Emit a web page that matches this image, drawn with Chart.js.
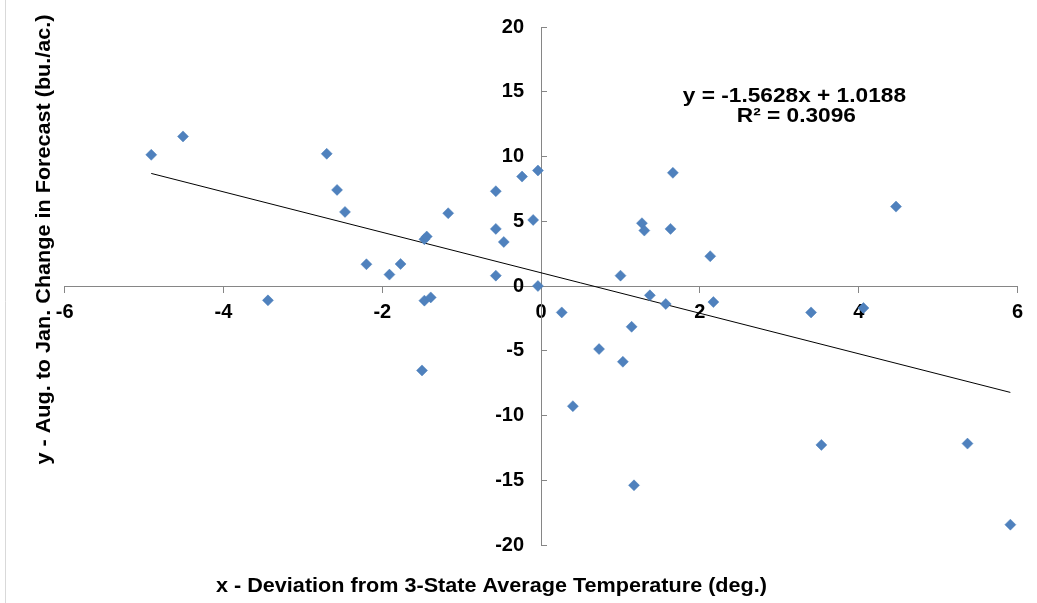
<!DOCTYPE html>
<html>
<head>
<meta charset="utf-8">
<script src="https://cdn.jsdelivr.net/npm/chart.js@4.4.1/dist/chart.umd.min.js"></script>
<style>
  html, body { margin: 0; padding: 0; background: #fff; }
  #wrap { width: 1037px; height: 603px; position: relative; }
</style>
</head>
<body>
<div id="wrap"><canvas id="c" width="1037" height="603"></canvas></div>
<script>
// ---- data ----
const xValues = [-4.91, -4.51, -3.44, -2.70, -2.57, -2.47, -2.20, -1.91, -1.77, -1.47, -1.44, -1.47, -1.39, -1.50, -1.17,
                 -0.57, -0.57, -0.47, -0.57, -0.24, -0.04, -0.10, -0.04, 0.26, 0.40, 0.73, 1.00, 1.03, 1.14, 1.27,
                 1.30, 1.37, 1.57, 1.63, 1.66, 2.13, 2.17, 3.40, 4.06, 4.47, 3.53, 5.37, 5.91, 1.17];
const yValues = [10.13, 11.55, -1.11, 10.21, 7.42, 5.72, 1.68, 0.88, 1.70, 3.61, 3.82, -1.13, -0.88, -6.52, 5.62,
                 7.32, 4.41, 3.40, 0.80, 8.45, 8.92, 5.10, 0.00, -2.04, -9.28, -4.87, 0.80, -5.85, -3.15, 4.85,
                 4.28, -0.72, -1.39, 4.41, 8.74, 2.30, -1.24, -2.04, -1.70, 6.13, -12.27, -12.17, -18.43, -15.39];
const xTicks = [-6, -4, -2, 0, 2, 4, 6];
const yTicks = [-20, -15, -10, -5, 0, 5, 10, 15, 20];
const trendSlope = -1.5628;
const trendIntercept = 1.0188;
const rSquared = 0.3096;
const xTitle = 'x - Deviation from 3-State Average Temperature (deg.)';
const yTitle = 'y - Aug. to Jan. Change in Forecast (bu./ac.)';
const eqLine1 = 'y = -1.5628x + 1.0188';
const eqLine2 = 'R\u00B2 = 0.3096';

// ---- derived ----
const points = xValues.map((x, i) => ({ x: x, y: yValues[i] }));
const xMin = Math.min(...xValues), xMax = Math.max(...xValues);
const trend = [xMin, xMax].map(x => ({ x: x, y: trendSlope * x + trendIntercept }));

const FONT = '"Liberation Sans", Arial, sans-serif';
const STRETCH = 1.08;

function stretchedText(ctx, text, x, y) {
  ctx.save();
  ctx.translate(x, y);
  ctx.scale(STRETCH, 1);
  ctx.fillText(text, 0, 0);
  ctx.restore();
}

const decor = {
  id: 'decor',
  beforeDraw(chart) {
    const ctx = chart.ctx;
    ctx.save();
    ctx.fillStyle = '#fff';
    ctx.fillRect(0, 0, chart.width, chart.height);
    ctx.strokeStyle = '#d9d9d9';
    ctx.lineWidth = 1;
    ctx.beginPath();
    ctx.moveTo(5.5, 0); ctx.lineTo(5.5, chart.height);
    ctx.stroke();
    ctx.restore();
  },
  afterDraw(chart) {
    const ctx = chart.ctx;
    const xs = chart.scales.x, ys = chart.scales.y;
    ctx.save();
    ctx.fillStyle = '#000';
    // y tick labels, left of the vertical axis
    ctx.font = 'bold 20px ' + FONT;
    ctx.textAlign = 'right';
    ctx.textBaseline = 'middle';
    const axisX = xs.getPixelForValue(0);
    yTicks.forEach(v => {
      ctx.fillText(String(v), axisX - 17, ys.getPixelForValue(v));
    });
    // equation label
    ctx.textAlign = 'center';
    ctx.textBaseline = 'alphabetic';
    ctx.font = 'bold 21px ' + FONT;
    const ex = xs.getPixelForValue(3.19);
    const ey = ys.getPixelForValue(14.23);
    stretchedText(ctx, eqLine1, ex, ey);
    stretchedText(ctx, eqLine2, ex + 2, ey + 20);
    // x title
    ctx.font = 'bold 20px ' + FONT;
    stretchedText(ctx, xTitle, 491.5, 592);
    // y title
    ctx.translate(50, 239.5);
    ctx.rotate(-Math.PI / 2);
    stretchedText(ctx, yTitle, 0, 0);
    ctx.restore();
  }
};

new Chart(document.getElementById('c'), {
  type: 'scatter',
  data: {
    datasets: [
      {
        label: 'data',
        data: points,
        pointStyle: 'rectRot',
        pointRadius: 5.5,
        pointHoverRadius: 5.5,
        backgroundColor: '#4F81BD',
        borderColor: '#4A7EBB',
        borderWidth: 0.5
      },
      {
        type: 'line',
        label: 'trend',
        data: trend,
        borderColor: '#000',
        borderWidth: 1,
        pointRadius: 0,
        fill: false
      }
    ]
  },
  options: {
    responsive: false,
    animation: false,
    layout: { padding: { left: 64.7, right: 19.5, top: 27, bottom: 58 } },
    plugins: { legend: { display: false }, tooltip: { enabled: false } },
    scales: {
      x: {
        type: 'linear',
        position: { y: 0 },
        min: -6, max: 6,
        afterBuildTicks: s => { s.ticks = xTicks.map(v => ({ value: v })); },
        grid: { drawOnChartArea: false, drawTicks: true, tickLength: 6, color: '#868686', lineWidth: 1 },
        border: { display: true, color: '#868686', width: 1 },
        ticks: { color: '#000', font: { family: FONT, size: 20, weight: 'bold' }, padding: 8, maxRotation: 0, autoSkip: false }
      },
      y: {
        type: 'linear',
        position: { x: 0 },
        min: -20, max: 20,
        afterBuildTicks: s => { s.ticks = yTicks.map(v => ({ value: v })); },
        grid: { drawOnChartArea: false, drawTicks: true, tickLength: -6, color: '#868686', lineWidth: 1 },
        border: { display: true, color: '#868686', width: 1 },
        ticks: { display: false }
      }
    }
  },
  plugins: [decor]
});
</script>
</body>
</html>
